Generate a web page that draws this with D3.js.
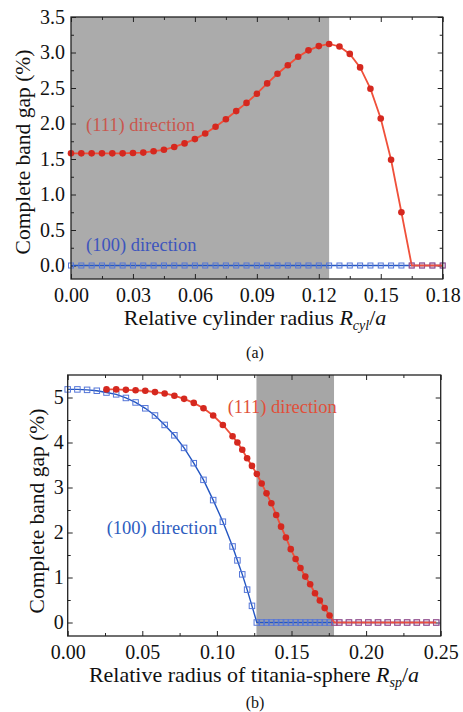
<!DOCTYPE html>
<html>
<head>
<meta charset="utf-8">
<script src="https://d3js.org/d3.v7.min.js"></script>
<style>
body { margin: 0; background: #fff; }
text { font-family: "Liberation Serif", "Times New Roman", serif; }
.tick text { font-size: 20px; fill: #111; }
.tick line { stroke: #222; }
</style>
</head>
<body>
<script>
// ---- panel (a): cylinder radius
var cylR = [0, 0.005, 0.01, 0.015, 0.02, 0.025, 0.03, 0.035, 0.04, 0.045, 0.05, 0.055,
  0.06, 0.065, 0.07, 0.075, 0.08, 0.085, 0.09, 0.095, 0.1, 0.105, 0.11, 0.115, 0.12,
  0.125, 0.13, 0.135, 0.14, 0.145, 0.15, 0.155, 0.16, 0.165, 0.17, 0.175, 0.18];
var cyl111 = [1.58, 1.58, 1.58, 1.58, 1.58, 1.58, 1.585, 1.59, 1.61, 1.63, 1.67, 1.72,
  1.78, 1.86, 1.955, 2.06, 2.175, 2.29, 2.42, 2.565, 2.70, 2.82, 2.94, 3.03, 3.09,
  3.12, 3.085, 2.98, 2.79, 2.49, 2.07, 1.49, 0.75, 0, 0, 0, 0];
var cyl100 = [0, 0, 0, 0, 0, 0, 0, 0, 0, 0, 0, 0, 0, 0, 0, 0, 0, 0, 0, 0, 0, 0, 0, 0, 0,
  0, 0, 0, 0, 0, 0, 0, 0, 0, 0, 0, 0];
var cylGap = [0, 0.125];
var cylXTicks = [0, 0.03, 0.06, 0.09, 0.12, 0.15, 0.18];
var cylXMinor = [0.015, 0.045, 0.075, 0.105, 0.135, 0.165];
var cylYTicks = [0, 0.5, 1, 1.5, 2, 2.5, 3, 3.5];
var cylYMinor = [0.25, 0.75, 1.25, 1.75, 2.25, 2.75, 3.25];

// ---- panel (b): sphere radius
var sphR = [0, 0.0065, 0.013, 0.0195, 0.026, 0.0325, 0.039, 0.0455, 0.052, 0.0585, 0.065,
  0.0715, 0.078, 0.0845, 0.091, 0.0975, 0.104, 0.1105,
  0.11375, 0.117, 0.12025, 0.1235, 0.12675, 0.13, 0.13325, 0.1365, 0.13975, 0.143,
  0.14625, 0.1495, 0.15275, 0.156, 0.15925, 0.1625, 0.16575, 0.169, 0.17225, 0.1755, 0.17875,
  0.182, 0.1885, 0.195, 0.2015, 0.208, 0.2145, 0.221, 0.2275, 0.234, 0.2405, 0.247];
var sph111 = [null, null, null, null, 5.18, 5.18, 5.17, 5.16, 5.15, 5.12, 5.09,
  5.04, 4.97, 4.88, 4.76, 4.60, 4.39, 4.14,
  4.0, 3.84, 3.65, 3.48, 3.30, 3.09, 2.87, 2.65, 2.39, 2.13,
  1.89, 1.63, 1.41, 1.21, 1.02, 0.85, 0.65, 0.49, 0.32, 0.155, 0,
  0, 0, 0, 0, 0, 0, 0, 0, 0, 0, 0];
var sph100 = [5.18, 5.18, 5.17, 5.15, 5.11, 5.07, 4.99, 4.89, 4.76, 4.60, 4.39,
  4.16, 3.88, 3.54, 3.17, 2.72, 2.24, 1.69,
  1.38, 1.07, 0.73, 0.37, 0, 0, 0, 0, 0, 0,
  0, 0, 0, 0, 0, 0, 0, 0, 0, 0, 0,
  0, 0, 0, 0, 0, 0, 0, 0, 0, 0, 0];
var sphGap = [0.1265, 0.1785];
var sphXTicks = [0, 0.05, 0.1, 0.15, 0.2, 0.25];
var sphXMinor = [0.025, 0.075, 0.125, 0.175, 0.225];
var sphYTicks = [0, 1, 2, 3, 4, 5];
var sphYMinor = [0.5, 1.5, 2.5, 3.5, 4.5];

var svg = d3.select("body").append("svg")
    .attr("width", 463)
    .attr("height", 712);

function panel(o) {
  var g = svg.append("g");
  var x = d3.scaleLinear().domain(o.xDom).range([o.left, o.right]);
  var y = d3.scaleLinear().domain(o.yDom).range([o.bottom, o.top]);

  g.append("rect")
      .attr("x", x(o.gap[0]))
      .attr("width", x(o.gap[1]) - x(o.gap[0]))
      .attr("y", o.top)
      .attr("height", o.bottom - o.top)
      .attr("fill", o.gapColor);

  function ax(axis, tr) {
    var a = g.append("g").attr("transform", tr).call(axis);
    a.select(".domain").remove();
    return a;
  }
  var tb = "translate(0," + o.bottom + ")", tt = "translate(0," + o.top + ")";
  var tl = "translate(" + o.left + ",0)", tr = "translate(" + o.right + ",0)";
  ax(d3.axisBottom(x).tickValues(o.xTicks).tickFormat(d3.format(".2f"))
      .tickSizeInner(-5).tickSizeOuter(0).tickPadding(8.5), tb);
  ax(d3.axisBottom(x).tickValues(o.xMinor).tickFormat("").tickSizeInner(-3).tickSizeOuter(0), tb);
  ax(d3.axisTop(x).tickValues(o.xTicks).tickFormat("").tickSizeInner(-5).tickSizeOuter(0), tt);
  ax(d3.axisTop(x).tickValues(o.xMinor).tickFormat("").tickSizeInner(-3).tickSizeOuter(0), tt);
  ax(d3.axisLeft(y).tickValues(o.yTicks).tickFormat(d3.format(o.yFmt))
      .tickSizeInner(-5).tickSizeOuter(0).tickPadding(o.yPad), tl);
  ax(d3.axisLeft(y).tickValues(o.yMinor).tickFormat("").tickSizeInner(-3).tickSizeOuter(0), tl);
  ax(d3.axisRight(y).tickValues(o.yTicks).tickFormat("").tickSizeInner(-5).tickSizeOuter(0), tr);
  ax(d3.axisRight(y).tickValues(o.yMinor).tickFormat("").tickSizeInner(-3).tickSizeOuter(0), tr);

  var line = d3.line()
      .defined(function(d) { return d[1] != null; })
      .x(function(d) { return x(d[0]); })
      .y(function(d) { return y(d[1]); });

  var blue = d3.zip(o.xs, o.b100);
  var red = d3.zip(o.xs, o.r111).filter(function(d) { return d[1] != null; });

  g.append("path").datum(blue).attr("d", line)
      .attr("fill", "none").attr("stroke", "#2356c2").attr("stroke-width", 1.4);
  g.selectAll(".sq").data(blue).enter().append("rect")
      .attr("x", function(d) { return x(d[0]) - o.sq / 2; })
      .attr("y", function(d) { return y(d[1]) - o.sq / 2; })
      .attr("width", o.sq).attr("height", o.sq)
      .attr("fill", "none").attr("stroke", "#5576d8").attr("stroke-width", 1);

  g.append("path").datum(red).attr("d", line)
      .attr("fill", "none").attr("stroke", "#f0503a").attr("stroke-width", 1.8);
  g.selectAll(".dot").data(red.filter(function(d) { return d[1] > 0; })).enter().append("circle")
      .attr("cx", function(d) { return x(d[0]); })
      .attr("cy", function(d) { return y(d[1]); })
      .attr("r", 3.3)
      .attr("fill", "#d5281f");
  g.selectAll(".zero").data(red.filter(function(d) { return d[1] === 0; })).enter().append("rect")
      .attr("x", function(d) { return x(d[0]) - o.sq / 2; })
      .attr("y", function(d) { return y(d[1]) - o.sq / 2; })
      .attr("width", o.sq).attr("height", o.sq)
      .attr("fill", "none").attr("stroke", "#b8456e").attr("stroke-width", 1)
      .attr("stroke-opacity", 0.8);

  g.append("rect")
      .attr("x", o.left).attr("y", o.top)
      .attr("width", o.right - o.left).attr("height", o.bottom - o.top)
      .attr("fill", "none").attr("stroke", "#222").attr("stroke-width", 1.3);

  // axis titles
  g.append("text")
      .attr("transform", "translate(" + o.yLabX + "," + o.yLabY + ") rotate(-90)")
      .attr("text-anchor", "middle")
      .style("font-size", "21.5px")
      .style("fill", "#111")
      .text("Complete band gap (%)");

  var xl = g.append("text")
      .attr("x", o.xLabX).attr("y", o.xLabY)
      .attr("text-anchor", "middle")
      .style("font-size", "22px")
      .style("fill", "#111");
  xl.append("tspan").text(o.xLab);
  xl.append("tspan").style("font-style", "italic").text("R");
  xl.append("tspan").style("font-style", "italic").style("font-size", "14px")
      .attr("dy", 5).text(o.sub);
  xl.append("tspan").attr("dy", -5).text("/");
  xl.append("tspan").style("font-style", "italic").text("a");

  o.notes.forEach(function(n) {
    g.append("text")
        .attr("x", n.x).attr("y", n.y)
        .style("font-size", "18.5px")
        .style("fill", n.c)
        .text(n.t);
  });

  g.append("text")
      .attr("x", 255).attr("y", o.tagY)
      .attr("text-anchor", "middle")
      .style("font-size", "16px")
      .style("fill", "#111")
      .text(o.tag);
}

panel({
  xDom: [0, 0.18], yDom: [-0.19, 3.5],
  left: 71, right: 442.7, top: 17, bottom: 279,
  gap: cylGap, gapColor: "#ababab",
  xTicks: cylXTicks, xMinor: cylXMinor, yTicks: cylYTicks, yMinor: cylYMinor,
  yFmt: ".1f", yPad: 6,
  xs: cylR, r111: cyl111, b100: cyl100, sq: 5,
  yLabX: 29.5, yLabY: 152, xLabX: 255, xLabY: 325,
  xLab: "Relative cylinder radius ", sub: "cyl",
  notes: [
    {x: 86, y: 130.7, c: "#c9574e", t: "(111) direction"},
    {x: 86, y: 250.7, c: "#3d55bd", t: "(100) direction"}
  ],
  tag: "(a)", tagY: 357.5
});

panel({
  xDom: [0, 0.25], yDom: [-0.3, 5.5],
  left: 67.7, right: 440.7, top: 375, bottom: 636,
  gap: sphGap, gapColor: "#a6a6a6",
  xTicks: sphXTicks, xMinor: sphXMinor, yTicks: sphYTicks, yMinor: sphYMinor,
  yFmt: "d", yPad: 4,
  xs: sphR, r111: sph111, b100: sph100, sq: 5.5,
  yLabX: 43.5, yLabY: 511, xLabX: 254, xLabY: 681.5,
  xLab: "Relative radius of titania-sphere ", sub: "sp",
  notes: [
    {x: 227.7, y: 412.7, c: "#e0503a", t: "(111) direction"},
    {x: 106.7, y: 534.3, c: "#2d5cc0", t: "(100) direction"}
  ],
  tag: "(b)", tagY: 708
});
</script>
</body>
</html>
